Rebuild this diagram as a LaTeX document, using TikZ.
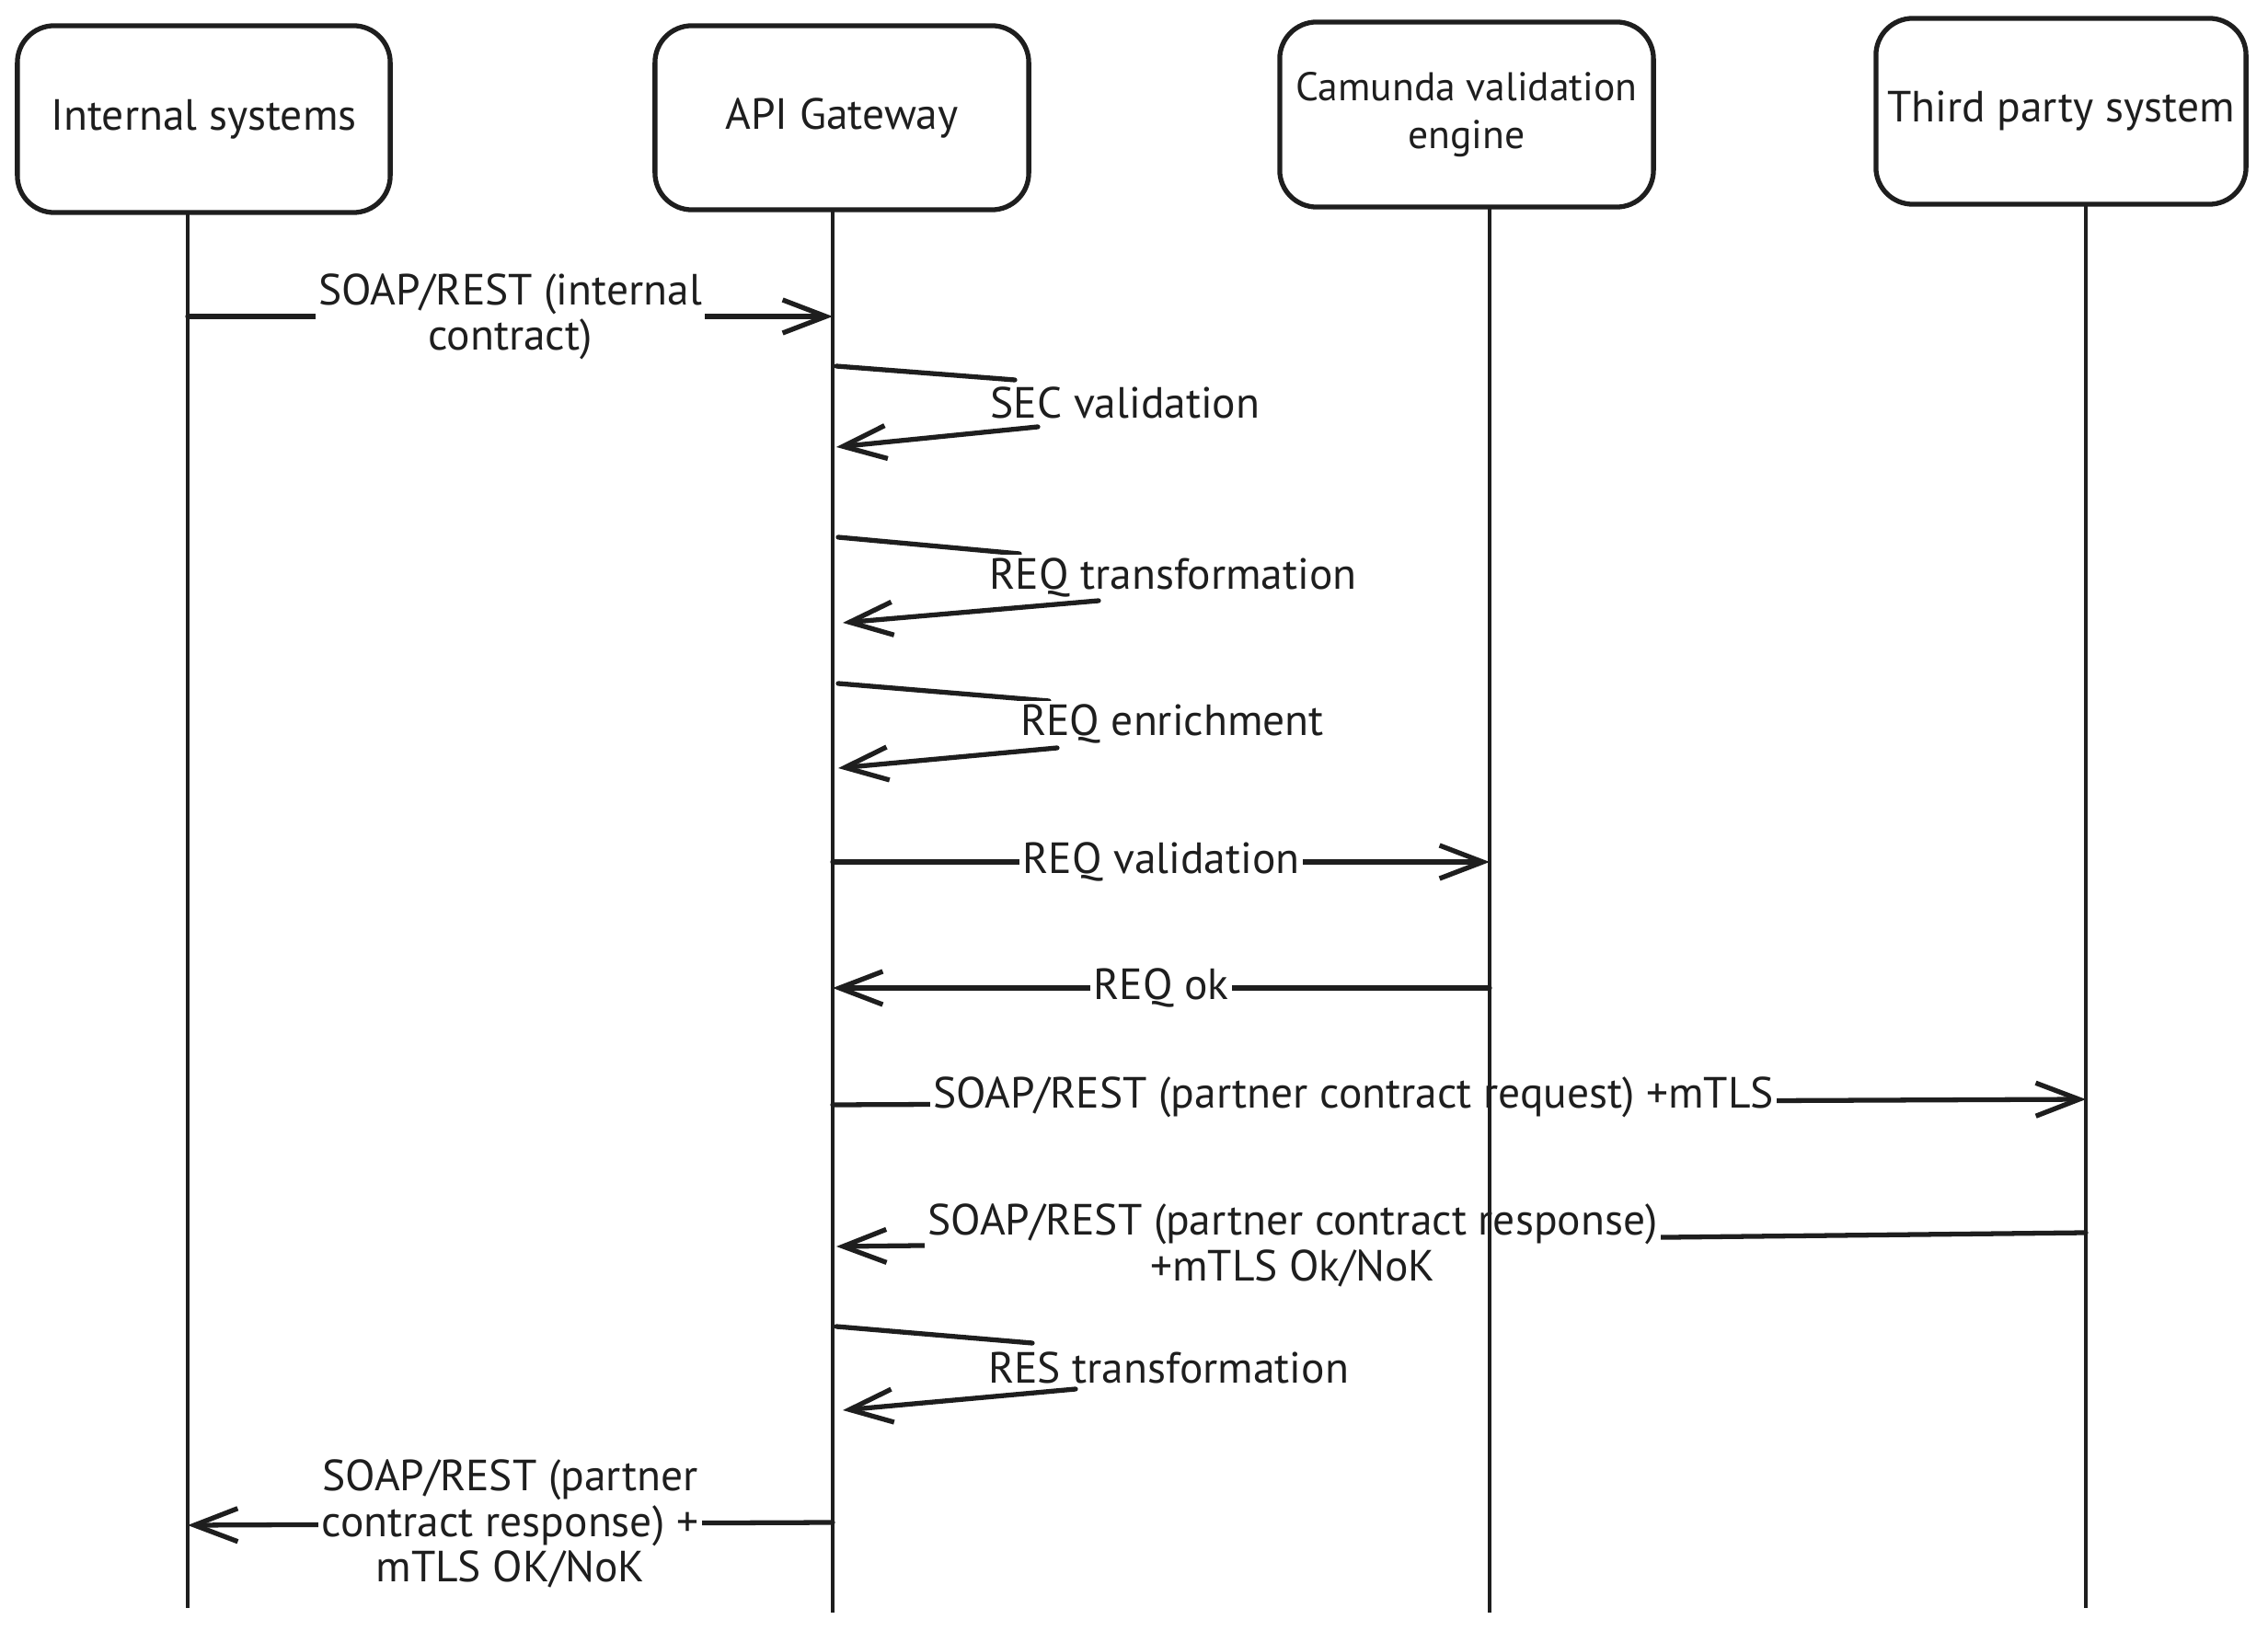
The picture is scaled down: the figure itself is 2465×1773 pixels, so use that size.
\documentclass[tikz,border=0pt]{standalone}
\usepackage{fontspec}
\setmainfont{PT Sans}
\usetikzlibrary{arrows.meta}
\definecolor{ink}{HTML}{1E1E1E}
\begin{document}
\begin{tikzpicture}[x=0.01cm,y=-0.01cm,
  font=\fontsize{13.5}{14}\selectfont,
  actor/.style={draw=ink, line width=1.5pt, rounded corners=0.4cm, inner sep=0pt, text=ink, align=center},
  lifeline/.style={draw=ink, line width=1.2pt},
  msg/.style={draw=ink, line width=1.5pt, line cap=round},
  arr/.style={msg, -{Straight Barb[length=4.7mm,width=3.6mm]}},
  lbl/.style={fill=white, text=ink, inner xsep=1pt, inner ysep=1pt, align=center},
  ]
\useasboundingbox (0,0) rectangle (2465,1773);
\fill[white] (0,0) rectangle (2465,1773);

% actors
\node[actor, minimum width=4.05cm, minimum height=2.03cm] (is) at (221.5,129.5) {Internal systems};
\node[actor, minimum width=4.06cm, minimum height=2.00cm] (gw) at (915,128) {API Gateway};
\node[actor, minimum width=4.06cm, minimum height=2.01cm, font=\fontsize{12.4}{14.7}\selectfont] (cv) at (1594,124.5) {Camunda validation\\engine};
\node[actor, minimum width=4.02cm, minimum height=2.02cm] (tp) at (2240,121) {Third party system};

% lifeline end points
\coordinate (l1t) at (204,231);  \coordinate (l1b) at (204,1748);
\coordinate (l2t) at (905,228);  \coordinate (l2b) at (905,1753);
\coordinate (l3t) at (1619,225); \coordinate (l3b) at (1619,1753);
\coordinate (l4t) at (2267,222); \coordinate (l4b) at (2267,1748);

% 1 internal -> gateway
\coordinate (m1s) at (204,344); \coordinate (m1e) at (905,344);
\draw[arr] (m1s) -- (m1e) node[lbl, midway] (t1) {SOAP/REST (internal\\contract)};

% 2 SEC validation (self)
\coordinate (m2a) at (909,398); \coordinate (m2b) at (1103,413);
\coordinate (m2c) at (1128,464); \coordinate (m2d) at (909,486);
\draw[msg] (m2a) -- (m2b);
\node[lbl] (t2) at (1223,438) {SEC validation};
\draw[arr] (m2c) -- (m2d);

% 3 REQ transformation (self)
\coordinate (m3a) at (911,584); \coordinate (m3b) at (1108,602);
\coordinate (m3c) at (1194,653); \coordinate (m3d) at (916,677);
\draw[msg] (m3a) -- (m3b);
\node[lbl] (t3) at (1275,628) {REQ transformation};
\draw[arr] (m3c) -- (m3d);

% 4 REQ enrichment (self)
\coordinate (m4a) at (911,743); \coordinate (m4b) at (1140,762);
\coordinate (m4c) at (1149,813); \coordinate (m4d) at (911,835);
\draw[msg] (m4a) -- (m4b);
\node[lbl] (t4) at (1274,787) {REQ enrichment};
\draw[arr] (m4c) -- (m4d);

% 5 REQ validation
\coordinate (m5s) at (905,937); \coordinate (m5e) at (1619,937);
\draw[arr] (m5s) -- (m5e) node[lbl, midway] (t5) {REQ validation};

% 6 REQ ok
\coordinate (m6s) at (1619,1074); \coordinate (m6e) at (905,1074);
\draw[arr] (m6s) -- (m6e) node[lbl, midway] (t6) {REQ ok};

% 7 partner request
\coordinate (m7s) at (905,1201); \coordinate (m7e) at (2267,1195);
\draw[arr] (m7s) -- (m7e);
\node[lbl] (t7) at (1471,1193) {SOAP/REST (partner contract request) +mTLS};

% 8 partner response
\coordinate (m8s) at (2267,1340); \coordinate (m8e) at (909,1355);
\draw[arr] (m8s) -- (m8e);
\node[lbl] (t8) at (1405,1354) {SOAP/REST (partner contract response)\\+mTLS Ok/NoK};

% 9 RES transformation (self)
\coordinate (m9a) at (909,1442); \coordinate (m9b) at (1122,1460);
\coordinate (m9c) at (1169,1510); \coordinate (m9d) at (916,1533);
\draw[msg] (m9a) -- (m9b);
\node[lbl] (t9) at (1270,1487) {RES transformation};
\draw[arr] (m9c) -- (m9d);

% 10 gateway -> internal
\coordinate (m10s) at (905,1655); \coordinate (m10e) at (204,1658);
\draw[arr] (m10s) -- (m10e) node[lbl, midway] (t10) {SOAP/REST (partner\\contract response) +\\mTLS OK/NoK};

% lifelines on top
\draw[lifeline] (l1t) -- (l1b);
\draw[lifeline] (l2t) -- (l2b);
\draw[lifeline] (l3t) -- (l3b);
\draw[lifeline] (l4t) -- (l4b);
\end{tikzpicture}
\end{document}
